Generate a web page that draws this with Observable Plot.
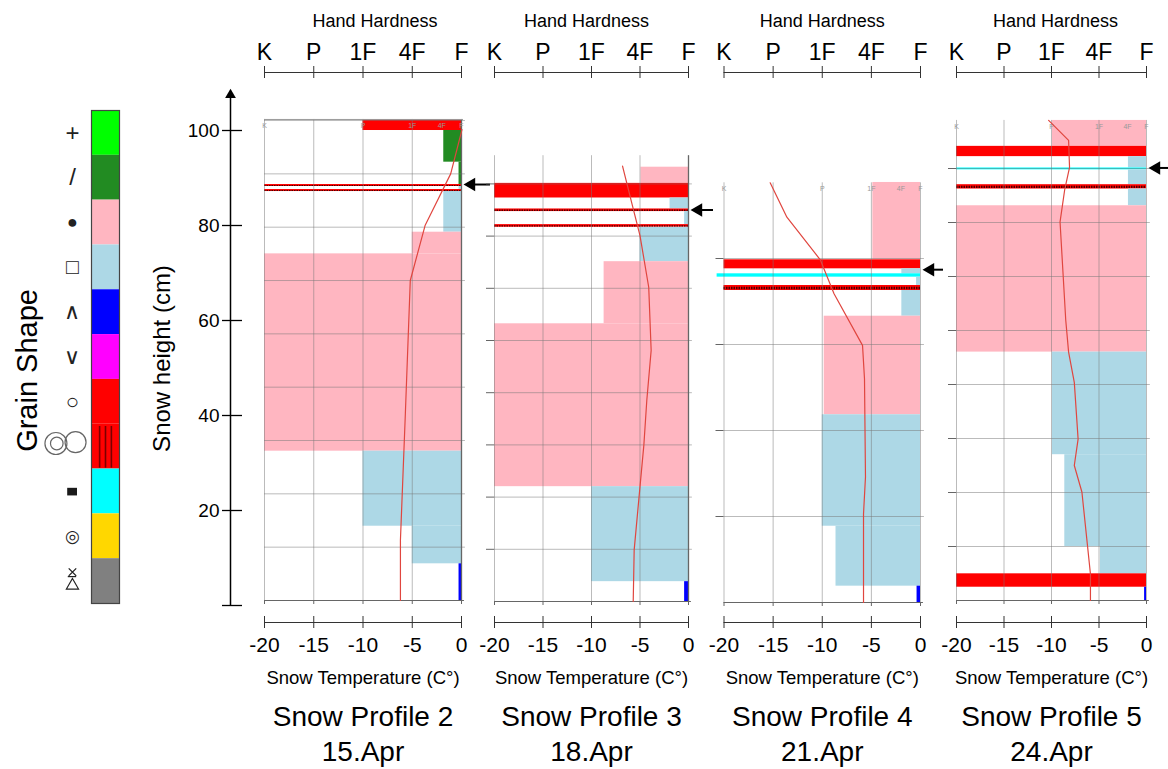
<!DOCTYPE html>
<html><head><meta charset="utf-8">
<script src="https://cdn.jsdelivr.net/npm/d3@7"></script>
<script src="https://cdn.jsdelivr.net/npm/@observablehq/plot@0.6"></script>
<style>
body{margin:0;background:#fff;font-family:"Liberation Sans",Arial,sans-serif;}
#wrap{position:relative;width:1168px;height:769px;overflow:hidden;background:#fff;}
#wrap svg{position:absolute;left:0;top:0;}
</style></head><body><div id="wrap"></div>
<script>
// ---------- data ----------
const grainCodes   = ["PP","DF","RG","FC","DH","SH","MF","MFcr","IF","PPgp","SHxr"];
const grainColors  = ["#00ff00","#228b22","#ffb6c1","#add8e6","#0000ff","#ff00ff","#ff0000","#ff0000","#00ffff","#ffd700","#808080"];
const grainSymbols = ["+","/","●","□","∧","∨","○","","","◎",""];
const symbolSizes  = [24, 24, 18, 21, 22, 22, 22, 0, 0, 17, 0];

const tempTicks = [-20,-15,-10,-5,0];
const hardnessLabels = ["K","P","1F","4F","F"];
const innerHardnessIndex = [-20,-10,-5,-2,0];
const heightTicks = [0,20,40,60,80,100];

const profile2Layers = [
  {grain:"MF",   bottom:88.13, top:90.14, hard:-10},
  {grain:"DF",   bottom:82.19, top:88.13, hard:-1.8},
  {grain:"DF",   bottom:78.0,  top:82.19, hard:-0.25},
  {grain:"MFcr", bottom:77.63, top:78.0,  hard:-20},
  {grain:"FC",   bottom:77.06, top:77.63, hard:-0.25},
  {grain:"MFcr", bottom:76.69, top:77.06, hard:-20},
  {grain:"FC",   bottom:69.06, top:76.69, hard:-1.8},
  {grain:"RG",   bottom:65.0,  top:69.06, hard:-5},
  {grain:"RG",   bottom:28.0,  top:65.0,  hard:-20},
  {grain:"FC",   bottom:13.93, top:28.0,  hard:-10},
  {grain:"FC",   bottom:6.88,  top:13.93, hard:-5},
  {grain:"DH",   bottom:0,     top:6.88,  hard:-0.25}
];
const profile2Temps = [
  {t:0.05,h:88.3},{t:-1.1,h:80},{t:-3.7,h:70.3},{t:-5.2,h:60},{t:-5.7,h:35},{t:-6.2,h:11.3},{t:-6.2,h:0}
];

const profile3Layers = [
  {grain:"RG",   bottom:80.1, top:83.2, hard:-4.9},
  {grain:"MF",   bottom:77.3, top:80.1, hard:-20},
  {grain:"FC",   bottom:75.2, top:77.3, hard:-1.9},
  {grain:"MFcr", bottom:74.7, top:75.2, hard:-20},
  {grain:"FC",   bottom:72.2, top:74.7, hard:-0.4},
  {grain:"MFcr", bottom:71.7, top:72.2, hard:-20},
  {grain:"FC",   bottom:65.1, top:71.7, hard:-5.0},
  {grain:"RG",   bottom:53.2, top:65.1, hard:-8.7},
  {grain:"RG",   bottom:22.0, top:53.2, hard:-20},
  {grain:"FC",   bottom:3.8,  top:22.0, hard:-10},
  {grain:"DH",   bottom:0,    top:3.8,  hard:-0.4}
];
const profile3Temps = [
  {t:-6.8,h:83.4},{t:-5.8,h:76.0},{t:-5.0,h:70.1},{t:-4.1,h:60.2},{t:-3.85,h:48.1},
  {t:-4.3,h:38.5},{t:-4.6,h:30.0},{t:-5.0,h:22.0},{t:-5.6,h:9.9},{t:-5.7,h:0}
];

const profile4Layers = [
  {grain:"RG",   bottom:39.85, top:48.84, hard:-4.85},
  {grain:"MF",   bottom:38.80, top:39.85, hard:-20},
  {grain:"FC",   bottom:38.22, top:38.80, hard:-1.9},
  {grain:"IF",   bottom:37.83, top:38.22, hard:-20.7},
  {grain:"FC",   bottom:36.86, top:37.83, hard:-0.4},
  {grain:"MFcr", bottom:36.28, top:36.86, hard:-20},
  {grain:"FC",   bottom:33.29, top:36.28, hard:-1.9},
  {grain:"RG",   bottom:21.83, top:33.29, hard:-9.8},
  {grain:"FC",   bottom:8.87,  top:21.83, hard:-10},
  {grain:"FC",   bottom:1.90,  top:8.87,  hard:-8.6},
  {grain:"DH",   bottom:0,     top:1.90,  hard:-0.35}
];
const profile4Temps = [
  {t:-15.3,h:48.8},{t:-13.6,h:44.8},{t:-10.2,h:39.85},{t:-8.8,h:35.9},{t:-5.9,h:29.9},
  {t:-5.7,h:26.0},{t:-5.6,h:14.6},{t:-5.8,h:10.3},{t:-5.8,h:0}
];

const profile5Layers = [
  {grain:"RG",   bottom:84.1,  top:88.9,  hard:-9.9},
  {grain:"MF",   bottom:82.2,  top:84.1,  hard:-20},
  {grain:"FC",   bottom:80.1,  top:82.2,  hard:-1.9},
  {grain:"IF",   bottom:79.75, top:80.1,  hard:-20},
  {grain:"FC",   bottom:77.0,  top:79.75, hard:-1.9},
  {grain:"MFcr", bottom:76.2,  top:77.0,  hard:-20},
  {grain:"FC",   bottom:73.1,  top:76.2,  hard:-1.9},
  {grain:"RG",   bottom:46.0,  top:73.1,  hard:-20},
  {grain:"FC",   bottom:27.0,  top:46.0,  hard:-9.9},
  {grain:"FC",   bottom:10.0,  top:27.0,  hard:-8.6},
  {grain:"FC",   bottom:4.94,  top:10.0,  hard:-4.85},
  {grain:"MF",   bottom:2.46,  top:4.94,  hard:-20},
  {grain:"DH",   bottom:0,     top:2.46,  hard:-0.2}
];
const profile5Temps = [
  {t:-10.3,h:88.9},{t:-8.2,h:85.2},{t:-8.1,h:80.2},{t:-8.6,h:76.2},{t:-9.1,h:70.1},
  {t:-8.5,h:51.9},{t:-8.2,h:46.0},{t:-7.6,h:40.4},{t:-7.2,h:29.9},{t:-7.6,h:25.0},
  {t:-6.8,h:20.1},{t:-5.9,h:4.9},{t:-5.9,h:0}
];

const profileTitles = ["Snow Profile 2","Snow Profile 3","Snow Profile 4","Snow Profile 5"];
const profileDates  = ["15.Apr","18.Apr","21.Apr","24.Apr"];
const arrowHeights  = [78.0, 75.0, 38.7, 80.1];

// ---------- drawing ----------
const W = 1168, H = 769;
const FONT = "'Liberation Sans', Arial, sans-serif";
const baseStyle = {background:"transparent", overflow:"visible", fontFamily:FONT, fontSize:"10px", color:"black"};
const wrap = document.getElementById("wrap");

function makePanel(cfg) {
  const AX_TOP = 72, AX_BOT = 622;
  const u = px => (cfg.y0 - px) / cfg.ppu;
  const pxDeg = (cfg.xRight - cfg.xLeft) / 20;
  const grid = d3.range(10, cfg.boxTop + 0.01, 10);
  const crusts = cfg.layers.filter(d => d.grain === "MFcr");
  const headX = (2 + 7.8) / pxDeg;
  const marks = [
    Plot.rect(cfg.layers, {x1:"hard", x2:0, y1:"bottom", y2:"top", fill:"grain"}),
    Plot.ruleY(crusts, {y:d => (d.bottom + d.top) / 2, x1:"hard", x2:0, stroke:"#4a0000",
      strokeWidth:d => Math.max(1, (d.top - d.bottom) * cfg.ppu * 0.5), strokeDasharray:"1.5,1"}),
    Plot.ruleX(tempTicks, {y1:0, y2:cfg.boxTop, stroke:"#777", strokeOpacity:0.5}),
    Plot.ruleY(grid, {x1:-20, x2:0.4, stroke:"#777", strokeOpacity:0.5}),
    Plot.ruleY([0], {x1:-20, x2:0.3, stroke:"#666"}),
    Plot.ruleX(tempTicks, {y1:0, y2:-4 / cfg.ppu, stroke:"#666"})
  ];
  if (cfg.leftTicks) marks.push(Plot.ruleY(grid, {x1:-20 - 8 / pxDeg, x2:-20, stroke:"#666"}));
  if (cfg.rightBorder) marks.push(Plot.ruleX([0], {y1:0, y2:cfg.boxTop, stroke:"#666", strokeWidth:1.3}));
  if (cfg.topLine) marks.push(Plot.ruleY([cfg.boxTop], {x1:-20, x2:0.2, stroke:"#999"}));
  if (cfg.innerLabels) marks.push(Plot.text(hardnessLabels, {x:(d,i) => innerHardnessIndex[i], y:cfg.boxTop, dy:6,
      text:d => d, fontSize:7, fill:"#999"}));
  marks.push(
    Plot.line(cfg.temps, {x:"t", y:"h", stroke:"#e0463f", strokeWidth:1.2}),
    Plot.ruleY([cfg.arrow], {x1:headX, x2:cfg.arrowLen / pxDeg, stroke:"black", strokeWidth:2}),
    Plot.dot([cfg.arrow], {x:headX, y:d => d, symbol:"triangle", r:5, rotate:-90, fill:"black", stroke:"none"}),
    // top hardness axis
    Plot.ruleY([u(AX_TOP)], {x1:-20, x2:0, stroke:"#333"}),
    Plot.ruleX(tempTicks, {y1:u(AX_TOP - 6), y2:u(AX_TOP + 6), stroke:"#333"}),
    Plot.axisX(tempTicks, {anchor:"top", tickSize:0, tickPadding:13, label:null,
      tickFormat:d => hardnessLabels[tempTicks.indexOf(d)], fontSize:23}),
    Plot.text(["Hand Hardness"], {frameAnchor:"top", lineAnchor:"middle", dy:-51, dx:cfg.hhDx, text:d => d, fontSize:18}),
    // bottom temperature axis
    Plot.ruleY([u(AX_BOT)], {x1:-20, x2:0, stroke:"#333"}),
    Plot.ruleX(tempTicks, {y1:u(AX_BOT - 6), y2:u(AX_BOT + 6), stroke:"#333"}),
    Plot.axisX(tempTicks, {anchor:"bottom", tickSize:0, tickPadding:15, label:null,
      tickFormat:d => String(d), fontSize:21}),
    Plot.text(["Snow Temperature (C°)"], {frameAnchor:"bottom", lineAnchor:"middle", dy:56, text:d => d, fontSize:18.5}),
    Plot.text([cfg.title], {frameAnchor:"bottom", lineAnchor:"middle", dy:95, text:d => d, fontSize:28}),
    Plot.text([cfg.date], {frameAnchor:"bottom", lineAnchor:"middle", dy:130, text:d => d, fontSize:28})
  );
  return Plot.plot({
    width:W, height:H,
    marginLeft:cfg.xLeft, marginRight:W - cfg.xRight, marginTop:AX_TOP, marginBottom:H - AX_BOT,
    x:{domain:[-20, 0], axis:null},
    y:{domain:[u(AX_BOT), u(AX_TOP)], axis:null},
    color:{type:"ordinal", domain:grainCodes, range:grainColors},
    style:baseStyle,
    marks
  });
}

function makeHeightAxis() {
  return Plot.plot({
    width:W, height:H, marginLeft:230, marginRight:W - 240, marginTop:130, marginBottom:H - 605,
    x:{domain:[0, 1], axis:null}, y:{domain:[0, 100], axis:null},
    style:baseStyle,
    marks:[
      Plot.ruleX([0], {y1:0, y2:107, stroke:"black", strokeWidth:1.5}),
      Plot.dot([107.5], {x:0, y:d => d, symbol:"triangle", r:4, fill:"black", stroke:"none"}),
      Plot.ruleY(heightTicks, {x1:-0.8, x2:1.2, stroke:"black", strokeWidth:1.3}),
      Plot.axisY(heightTicks.filter(d => d > 0), {anchor:"left", tickSize:0, tickPadding:11, label:null, fontSize:19}),
      Plot.text(["Snow height (cm)"], {x:-6.8, y:52, rotate:-90, text:d => d, fontSize:24})
    ]
  });
}

function makeLegend() {
  const symbolMarks = grainCodes.map((code, i) => grainSymbols[i]
    ? Plot.text([code], {x:-0.68, y:i + 0.5, text:() => grainSymbols[i], fontSize:symbolSizes[i], fill:"#222"})
    : null).filter(Boolean);
  return Plot.plot({
    width:W, height:H, marginLeft:91, marginRight:W - 119, marginTop:110, marginBottom:H - 603,
    x:{domain:[0, 1], axis:null}, y:{domain:[0, 11], reverse:true, axis:null},
    color:{type:"ordinal", domain:grainCodes, range:grainColors},
    style:baseStyle,
    marks:[
      Plot.rect(grainCodes, {x1:0, x2:1, y1:(d,i) => i, y2:(d,i) => i + 1, fill:d => d}),
      Plot.ruleX([0.29, 0.5, 0.71], {y1:7.05, y2:7.98, stroke:"#7a0000", strokeWidth:1.6}),
      Plot.frame({stroke:"#444", strokeWidth:1.2}),
      ...symbolMarks,
      Plot.dot([0], {x:-1.27, y:7.43, r:11, stroke:"#666", fill:"none", strokeWidth:1.2}),
      Plot.dot([0], {x:-1.24, y:7.43, r:6.3, stroke:"#666", fill:"none", strokeWidth:1.2}),
      Plot.dot([0], {x:-0.57, y:7.4, r:10.5, stroke:"#666", fill:"none", strokeWidth:1.2}),
      Plot.rect([0], {x1:-0.85, x2:-0.5, y1:8.43, y2:8.6, fill:"#1a1a1a"}),
      Plot.dot([0], {x:-0.68, y:10.3, symbol:"times", r:3.5, stroke:"#222", strokeWidth:1.3}),
      Plot.ruleY([10.4], {x1:-0.83, x2:-0.53, stroke:"#222", strokeWidth:1.2}),
      Plot.dot([0], {x:-0.68, y:10.6, symbol:"triangle", r:4.5, stroke:"#222", fill:"none", strokeWidth:1.2}),
      Plot.text(["Grain Shape"], {x:-2.29, y:5.8, rotate:-90, text:d => d, fontSize:29})
    ]
  });
}

const panels = [
  {xLeft:264,   xRight:461,  y0:600, ppu:5.333, boxTop:90.2, layers:profile2Layers, temps:profile2Temps,
   leftTicks:false, rightBorder:true,  topLine:true,  innerLabels:true,  arrowLen:29, hhDx:12},
  {xLeft:494,   xRight:688,  y0:601, ppu:5.22,  boxTop:85.4, layers:profile3Layers, temps:profile3Temps,
   leftTicks:true,  rightBorder:true,  topLine:false, innerLabels:false, arrowLen:25, hhDx:-5},
  {xLeft:723.5, xRight:920,  y0:602, ppu:8.6,   boxTop:48.8, layers:profile4Layers, temps:profile4Temps,
   leftTicks:true,  rightBorder:false, topLine:false, innerLabels:true,  arrowLen:23, hhDx:0},
  {xLeft:956,   xRight:1146, y0:600, ppu:5.4,   boxTop:88.9, layers:profile5Layers, temps:profile5Temps,
   leftTicks:true,  rightBorder:false, topLine:false, innerLabels:true,  arrowLen:23, hhDx:4}
];

wrap.appendChild(makeLegend());
wrap.appendChild(makeHeightAxis());
panels.forEach((p, i) => {
  wrap.appendChild(makePanel({...p, title:profileTitles[i], date:profileDates[i], arrow:arrowHeights[i]}));
});
</script>
</body></html>
